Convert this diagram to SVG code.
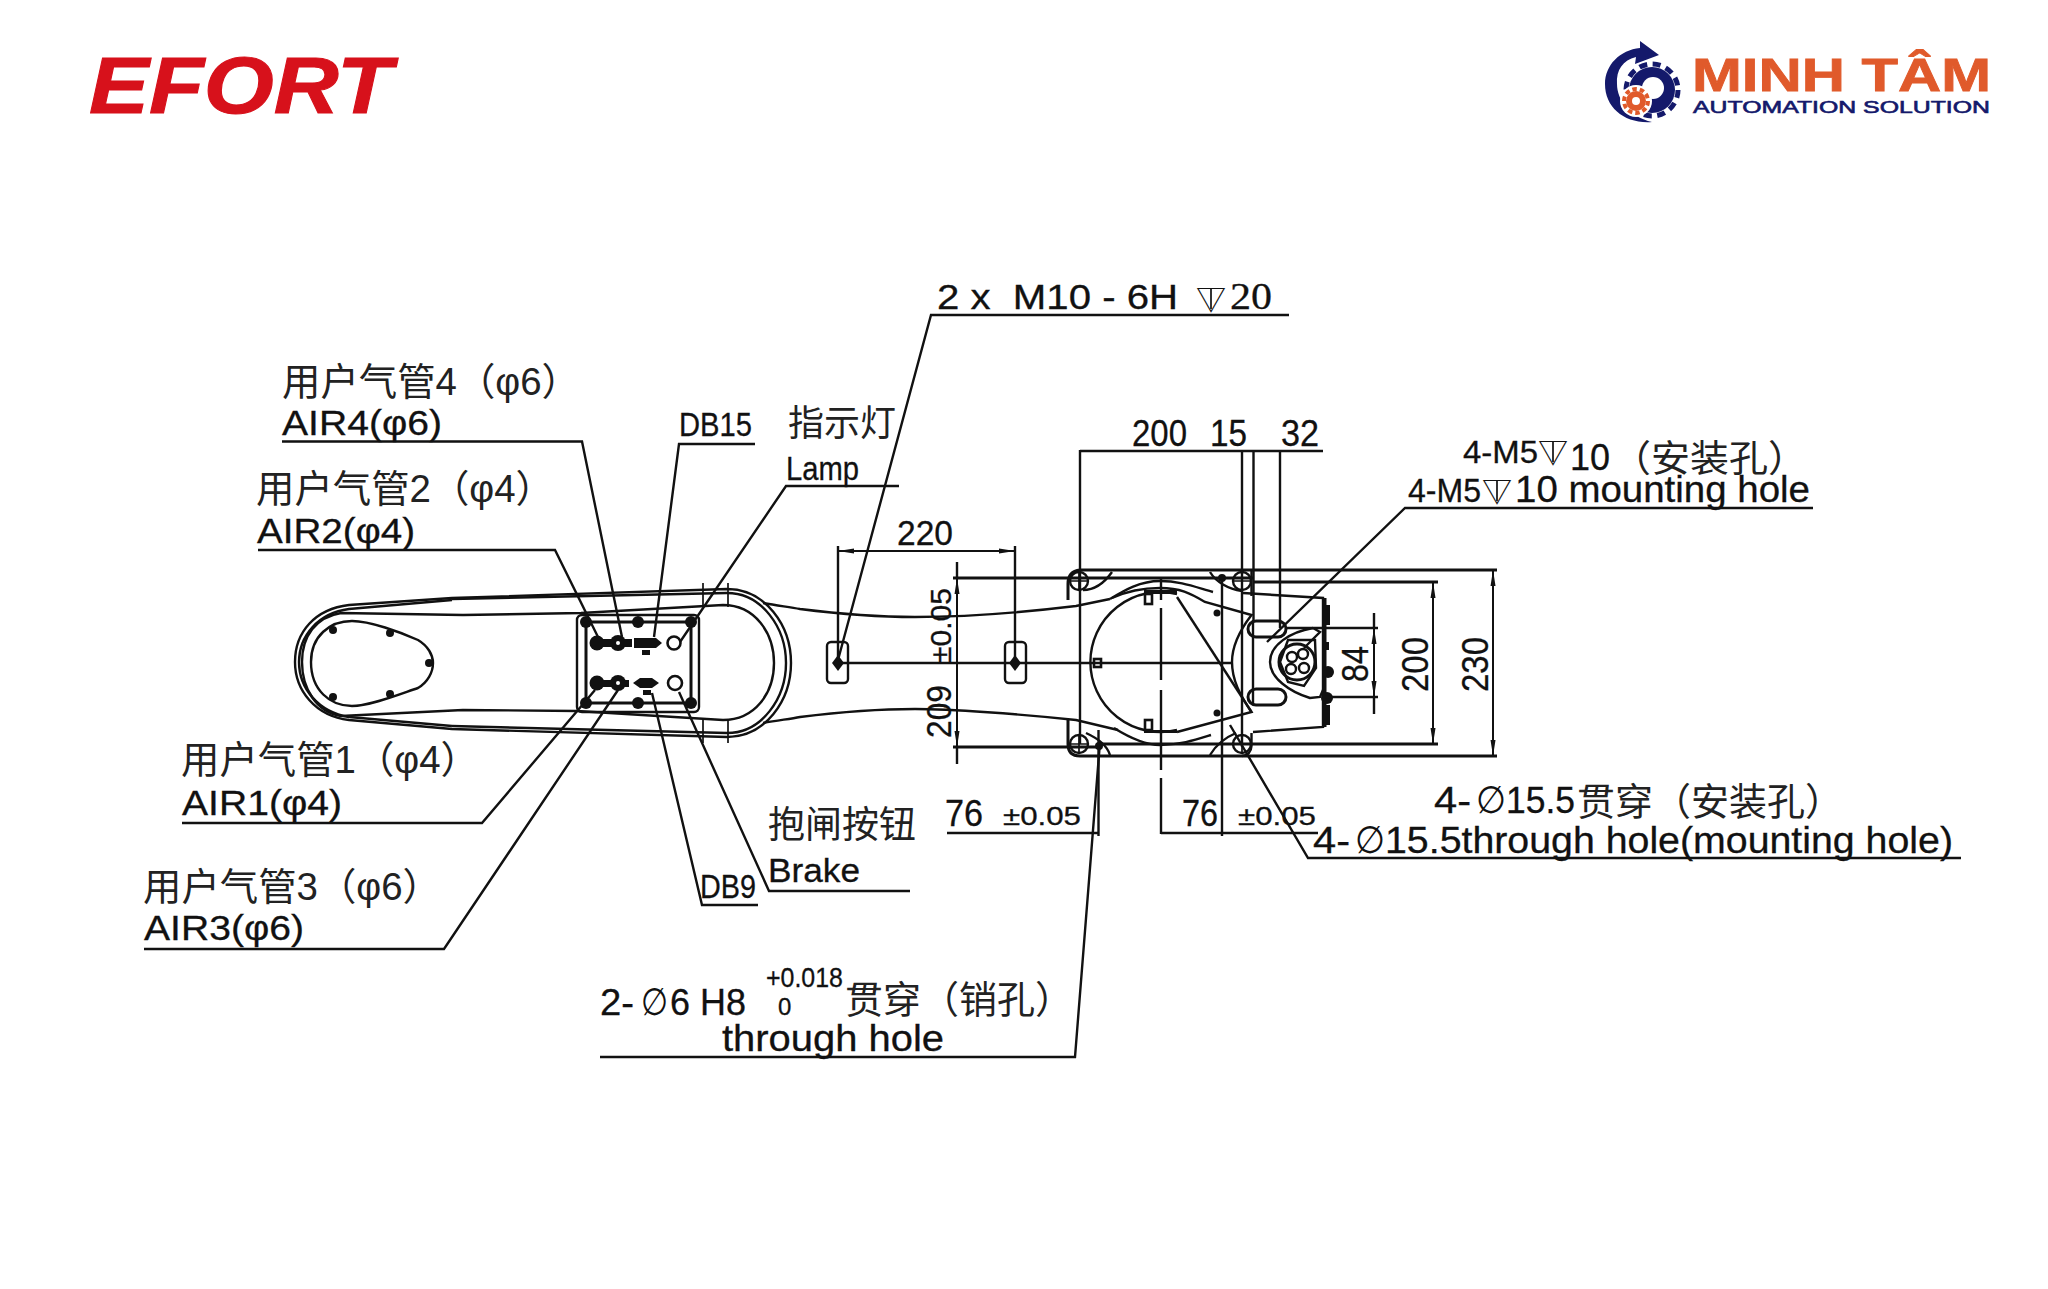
<svg xmlns="http://www.w3.org/2000/svg" width="2048" height="1289" viewBox="0 0 2048 1289">
<style>
text{font-family:"Liberation Sans","Noto Sans CJK SC",sans-serif;fill:#111;stroke:#111;stroke-width:.3}
.cjk{fill:#222;stroke:none}
.sym{font-family:"DejaVu Sans","Liberation Sans",sans-serif;stroke:none}
.dep{font-family:"Noto Sans CJK SC",sans-serif;stroke:none;font-size:30px}
.ln{fill:none;stroke:#111;stroke-width:2.4}
.th{fill:none;stroke:#111;stroke-width:3}
.tn{fill:none;stroke:#111;stroke-width:1.7}
.dot{fill:#111}
.hl{fill:#fff;stroke:#111;stroke-width:2.6}
.dim{fill:none;stroke:#111;stroke-width:2;marker-start:url(#a);marker-end:url(#a)}
</style>
<defs>
<marker id="a" viewBox="0 0 16 6" refX="16" refY="3" markerWidth="16" markerHeight="6" markerUnits="userSpaceOnUse" orient="auto-start-reverse"><path d="M0 0.5L16 3L0 5.5Z" fill="#111"/></marker>
</defs>
<rect width="2048" height="1289" fill="#fff"/>

<g id="logo-efort">
<text x="89" y="113" font-size="80" font-weight="700" font-style="italic" textLength="303" lengthAdjust="spacingAndGlyphs" style="fill:#d7111b;stroke:#d7111b;stroke-width:1">EFORT</text>
</g>

<g id="logo-minhtam">
<path d="M1652 122C1625 124 1605 108 1605 84C1605 65 1620 50 1640 48L1640 41L1659 55L1635 64L1636 57C1623 60 1616 70 1617 84C1617 100 1630 117 1652 122Z" fill="#14196b"/>
<circle cx="1652" cy="90" r="23" fill="#14196b"/>
<circle cx="1652" cy="90" r="26" fill="none" stroke="#14196b" stroke-width="5" stroke-dasharray="8 5.6"/>
<circle cx="1653" cy="88" r="11" fill="#fff"/>
<circle cx="1636" cy="101" r="16" fill="#fff"/>
<circle cx="1636" cy="101" r="10" fill="#e05a2b"/>
<circle cx="1636" cy="101" r="12" fill="none" stroke="#e05a2b" stroke-width="4" stroke-dasharray="4.5 3"/>
<circle cx="1636" cy="101" r="4" fill="#fff"/>
<text x="1692" y="91" font-size="47" font-weight="700" textLength="299" lengthAdjust="spacingAndGlyphs" style="fill:#e05a2b;stroke:#e05a2b;stroke-width:.8">MINH TÂM</text>
<text x="1693" y="113" font-size="17" textLength="297" lengthAdjust="spacingAndGlyphs" style="fill:#14196b;stroke:#14196b;stroke-width:.6">AUTOMATION SOLUTION</text>
</g>

<g id="upper-arm">
<path class="ln" d="M349 605L452 598L727 589C765 589 791 625 791 663C791 701 765 737 727 737L452 729L349 720C315 716 295 690 295 662C295 632 315 609 349 605Z"/>
<path class="ln" d="M452 599L727 593C762 593 786 628 786 663C786 698 762 733 727 733L452 726"/>
<path class="ln" d="M452 600L349 609C318 613 299 636 299 662C299 688 318 712 349 717L452 726"/>
<path class="ln" d="M723 605L581 613L463 615L341 613C316 617 302 636 302 662C302 688 316 712 341 716L463 710L577 711L723 720C755 720 774 693 774 663C774 633 755 605 723 605Z"/>
<path class="ln" d="M352 621C370 621 400 632 418 640C428 646 433 655 433 663C433 672 428 682 418 688C400 694 370 706 352 706C330 706 311 690 311 662C311 636 330 621 352 621Z"/>
<path class="tn" d="M703 583V607M728 583V607M703 720V743M728 720V743"/>
<g class="dot"><circle cx="333" cy="630" r="4"/><circle cx="390" cy="633" r="4"/><circle cx="429" cy="663" r="4"/><circle cx="390" cy="694" r="4"/><circle cx="333" cy="697" r="4"/></g>
</g>

<g id="connector-plate">
<rect class="ln" x="577" y="615" width="122" height="97" rx="5" fill="#fff"/>
<rect class="th" x="586" y="622" width="105" height="81"/>
<g class="dot">
<circle cx="586" cy="622" r="6"/><circle cx="638" cy="622" r="6"/><circle cx="691" cy="622" r="6"/>
<circle cx="586" cy="703" r="6"/><circle cx="638" cy="703" r="6"/><circle cx="691" cy="703" r="6"/>
<circle cx="597" cy="643" r="7.5"/><circle cx="618" cy="643" r="8"/><rect x="603" y="639" width="29" height="8"/>
<path d="M634 638H656L662 643L656 648H634Z"/><rect x="642" y="650" width="8" height="5"/>
<circle cx="597" cy="683" r="7.5"/><circle cx="618" cy="683" r="8"/><rect x="603" y="680" width="26" height="7"/>
<path d="M640 678H652L659 683L652 688H640L633 683Z"/><rect x="643" y="690" width="8" height="5"/>
</g>
<circle cx="618" cy="643" r="2" fill="#fff"/><circle cx="618" cy="683" r="2" fill="#fff"/>
<circle class="hl" cx="674" cy="643" r="6.5"/>
<circle class="hl" cx="675" cy="683" r="7"/>
</g>

<g id="forearm">
<path class="ln" d="M763 603C780 606 790 607 800 609C840 614 880 617 915 617C950 617 1010 614 1076 606L1110 599"/>
<path class="ln" d="M763 723C780 720 790 719 800 717C840 712 880 709 915 709C950 709 1020 714 1076 720L1118 730"/>
<rect class="ln" x="827" y="642" width="21" height="41" rx="4"/>
<rect class="ln" x="1005" y="642" width="21" height="41" rx="4"/>
<g class="dot"><path d="M838 655L844 663L838 671L832 663Z"/><path d="M1015 655L1021 663L1015 671L1009 663Z"/></g>
</g>

<g id="base">
<path class="th" d="M1068 600V584Q1068 571 1080 570H1497M1068 720V744Q1068 756 1080 756H1497"/>
<path class="ln" d="M1251.500 570V596M1251.500 733V746Q1251 755 1242 756"/>
<circle class="ln" cx="1079" cy="581" r="9"/><circle class="ln" cx="1242" cy="581" r="9"/>
<circle class="ln" cx="1079" cy="744" r="9"/><circle class="ln" cx="1242" cy="744" r="9"/>
<path class="tn" d="M1070 581H1088M1079 572V590M1233 581H1251M1242 572V590M1070 744H1088M1079 735V753M1233 744H1251M1242 735V753"/>
<path class="ln" d="M1112 572C1105 582 1095 590 1083 590M1110 755C1107 745 1097 738 1086 733M1210 572C1216 582 1228 589 1242 591M1210 755C1216 745 1224 738 1236 733"/>
<path class="ln" d="M1177 594A70 70 0 1 0 1177 730"/>
<path class="ln" d="M1110 599C1125 590 1140 581 1160 581C1180 581 1195 587 1213 592"/>
<path class="ln" d="M1112 598C1125 592 1140 588 1160 588C1180 588 1190 593 1205 602L1251.500 615C1240 630 1232 645 1232 662C1232 680 1240 695 1251.500 712L1177 732"/>
<path class="ln" d="M1114 728C1130 738 1145 745 1160 745C1180 745 1195 740 1211 735"/>
<path class="ln" d="M1177 597L1251.500 712"/>
<rect class="dot" x="1144" y="590" width="33" height="4"/><rect class="dot" x="1144" y="730" width="33" height="3"/>
<rect class="hl" x="1145" y="594" width="7" height="10"/><rect class="hl" x="1145" y="720" width="7" height="10"/><rect class="hl" x="1094" y="659" width="7" height="8"/>
<g class="dot"><circle cx="1217" cy="613" r="3.500"/><circle cx="1217" cy="713" r="3.500"/><circle cx="1222" cy="578" r="4"/><circle cx="1099" cy="746" r="4"/></g>
</g>

<g id="wrist">
<path class="ln" d="M1243 593L1323 598V727L1253 732"/>
<path class="th" d="M1325 598V727"/>
<path class="ln" d="M1253 620V705"/>
<rect class="th" x="1248" y="621" width="38" height="16" rx="8"/>
<rect class="th" x="1248" y="689" width="38" height="16" rx="8"/>
<path class="ln" d="M1313 628C1290 632 1270 645 1270 662C1270 678 1290 692 1310 698L1320 697L1323 690M1313 628L1320 632L1304 648"/>
<path class="ln" d="M1288 640L1315 640L1316 668L1304 686L1288 682L1280 662Z"/>
<circle cx="1297" cy="662" r="18" fill="none" stroke="#111" stroke-width="3"/>
<g class="ln"><circle cx="1292" cy="657" r="5"/><circle cx="1303" cy="654" r="5"/><circle cx="1304" cy="668" r="5"/><circle cx="1291" cy="669" r="5"/></g>
<g class="dot"><rect x="1326" y="605" width="4" height="20"/><rect x="1326" y="705" width="4" height="20"/><circle cx="1328" cy="672" r="6"/><circle cx="1327" cy="698" r="6"/><rect x="1326" y="642" width="3" height="8"/></g>
</g>

<g id="leaders">
<path class="ln" d="M282 441.500H582L622 637"/>
<path class="ln" d="M258 550H555L598 637"/>
<path class="ln" d="M755 444H679L654 637"/>
<path class="ln" d="M899 486H786L680 642"/>
<path class="ln" d="M182 823H482L595 690"/>
<path class="ln" d="M144 949H444L618 690"/>
<path class="ln" d="M758 905H702L652 693"/>
<path class="ln" d="M910 891H769L679 692"/>
<path class="ln" d="M1289 315H931L838 660"/>
<path class="ln" d="M1813 508H1405L1267 642"/>
<path class="ln" d="M1961 858H1308L1230 725"/>
<path class="ln" d="M600 1057H1075L1100 742"/>
</g>

<g id="dimensions">
<path class="ln" d="M838 546V660M1015 546V660"/>
<path class="dim" d="M838 551H1015"/>
<path class="ln" d="M838 663H1232"/>
<path class="th" d="M953 578H1253M953 747H1100"/>
<path class="th" d="M1100 744H1438"/>
<path class="th" d="M1253 582H1438"/>
<path class="dim" d="M957 578V747"/>
<path class="ln" d="M957 562V578M957 747V764"/>
<path class="ln" d="M1080 450V744M1242 450V747M1253.500 450V621M1280 450V628"/>
<path class="ln" d="M1080 451H1323"/>
<path class="ln" d="M1161 578V600M1161 608V680M1161 690V770M1161 778V834" />
<path class="ln" d="M1098.500 730V836M1222 580V836"/>
<path class="ln" d="M947 833H1098.500M1161 833H1318"/>
<path class="ln" d="M1286 628H1378M1325 697H1378"/>
<path class="dim" d="M1374 628V697"/>
<path class="ln" d="M1374 613V628M1374 697V714"/>
<path class="dim" d="M1433 582V744"/>
<path class="dim" d="M1493 570V756"/>
<path class="tn" d="M1211 288V309M1553 441V462M1497 480V501"/>
</g>

<g id="labels">
<text class="cjk" x="282" y="395" font-size="38" textLength="298" lengthAdjust="spacingAndGlyphs">用户气管4（φ6）</text>
<text x="282" y="435" font-size="35" textLength="160" lengthAdjust="spacingAndGlyphs">AIR4(φ6)</text>
<text class="cjk" x="256" y="502" font-size="38" textLength="298" lengthAdjust="spacingAndGlyphs">用户气管2（φ4）</text>
<text x="257" y="543" font-size="35" textLength="158" lengthAdjust="spacingAndGlyphs">AIR2(φ4)</text>
<text x="679" y="436" font-size="33" textLength="73" lengthAdjust="spacingAndGlyphs">DB15</text>
<text class="cjk" x="788" y="436" font-size="36" textLength="108" lengthAdjust="spacingAndGlyphs">指示灯</text>
<text x="786" y="480" font-size="34" textLength="73" lengthAdjust="spacingAndGlyphs">Lamp</text>
<text class="cjk" x="181" y="773" font-size="38" textLength="298" lengthAdjust="spacingAndGlyphs">用户气管1（φ4）</text>
<text x="182" y="815" font-size="35" textLength="160" lengthAdjust="spacingAndGlyphs">AIR1(φ4)</text>
<text class="cjk" x="143" y="900" font-size="38" textLength="298" lengthAdjust="spacingAndGlyphs">用户气管3（φ6）</text>
<text x="144" y="940" font-size="35" textLength="160" lengthAdjust="spacingAndGlyphs">AIR3(φ6)</text>
<text class="cjk" x="768" y="838" font-size="37" textLength="148" lengthAdjust="spacingAndGlyphs">抱闸按钮</text>
<text x="768" y="882" font-size="34" textLength="92" lengthAdjust="spacingAndGlyphs">Brake</text>
<text x="700" y="898" font-size="34" textLength="56" lengthAdjust="spacingAndGlyphs">DB9</text>

<text x="937" y="309" font-size="35" textLength="241" lengthAdjust="spacingAndGlyphs">2 x&#160;&#160;M10 - 6H</text>
<text class="dep" x="1196" y="310">▽</text>
<text x="1230" y="309" font-size="38" textLength="42" lengthAdjust="spacingAndGlyphs" style="font-family:'Liberation Serif',serif">20</text>

<text x="1463" y="463" font-size="32" textLength="75" lengthAdjust="spacingAndGlyphs">4-M5</text>
<text class="dep" x="1538" y="463">▽</text>
<text x="1570" y="470" font-size="36" textLength="40" lengthAdjust="spacingAndGlyphs">10</text>
<text class="cjk" x="1612" y="472" font-size="37" textLength="195" lengthAdjust="spacingAndGlyphs">（安装孔）</text>
<text x="1408" y="502" font-size="34" textLength="73" lengthAdjust="spacingAndGlyphs">4-M5</text>
<text class="dep" x="1482" y="502">▽</text>
<text x="1515" y="502" font-size="36" textLength="295" lengthAdjust="spacingAndGlyphs">10 mounting hole</text>

<text x="1434" y="813" font-size="36" textLength="37" lengthAdjust="spacingAndGlyphs">4-</text>
<text class="sym" x="1476" y="813" font-size="38" textLength="30" lengthAdjust="spacingAndGlyphs">∅</text>
<text x="1506" y="813" font-size="36" textLength="69" lengthAdjust="spacingAndGlyphs">15.5</text>
<text class="cjk" x="1577" y="815" font-size="38" textLength="266" lengthAdjust="spacingAndGlyphs">贯穿（安装孔）</text>
<text x="1313" y="853" font-size="36" textLength="37" lengthAdjust="spacingAndGlyphs">4-</text>
<text class="sym" x="1355" y="853" font-size="38" textLength="30" lengthAdjust="spacingAndGlyphs">∅</text>
<text x="1385" y="853" font-size="36" textLength="568" lengthAdjust="spacingAndGlyphs">15.5through hole(mounting hole)</text>

<text x="600" y="1015" font-size="36" textLength="34" lengthAdjust="spacingAndGlyphs">2-</text>
<text class="sym" x="641" y="1015" font-size="38" textLength="27" lengthAdjust="spacingAndGlyphs">∅</text>
<text x="670" y="1015" font-size="36" textLength="76" lengthAdjust="spacingAndGlyphs">6 H8</text>
<text x="766" y="987" font-size="28" textLength="77" lengthAdjust="spacingAndGlyphs">+0.018</text>
<text x="778" y="1015" font-size="24">0</text>
<text class="cjk" x="845" y="1013" font-size="38" textLength="228" lengthAdjust="spacingAndGlyphs">贯穿（销孔）</text>
<text x="722" y="1051" font-size="36" textLength="222" lengthAdjust="spacingAndGlyphs">through hole</text>

<text x="897" y="545" font-size="35" textLength="56" lengthAdjust="spacingAndGlyphs">220</text>
<text x="1132" y="446" font-size="36" textLength="55" lengthAdjust="spacingAndGlyphs">200</text>
<text x="1210" y="446" font-size="36" textLength="37" lengthAdjust="spacingAndGlyphs">15</text>
<text x="1281" y="446" font-size="36" textLength="38" lengthAdjust="spacingAndGlyphs">32</text>
<text x="945" y="826" font-size="36" textLength="38" lengthAdjust="spacingAndGlyphs">76</text>
<text x="1003" y="825" font-size="26" textLength="78" lengthAdjust="spacingAndGlyphs">±0.05</text>
<text x="1182" y="826" font-size="36" textLength="36" lengthAdjust="spacingAndGlyphs">76</text>
<text x="1238" y="825" font-size="26" textLength="78" lengthAdjust="spacingAndGlyphs">±0.05</text>

<text transform="translate(951 738) rotate(-90)" font-size="35" textLength="53" lengthAdjust="spacingAndGlyphs">209</text>
<text transform="translate(951 663) rotate(-90)" font-size="30" textLength="75" lengthAdjust="spacingAndGlyphs">±0.05</text>
<text transform="translate(1368 682) rotate(-90)" font-size="36" textLength="36" lengthAdjust="spacingAndGlyphs">84</text>
<text transform="translate(1428 692) rotate(-90)" font-size="36" textLength="55" lengthAdjust="spacingAndGlyphs">200</text>
<text transform="translate(1488 692) rotate(-90)" font-size="36" textLength="55" lengthAdjust="spacingAndGlyphs">230</text>
</g>
</svg>
